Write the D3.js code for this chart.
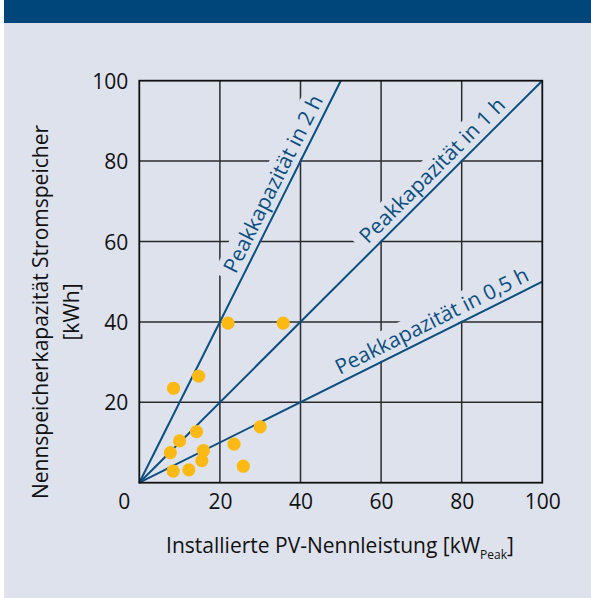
<!DOCTYPE html>
<html>
<head>
<meta charset="utf-8">
<script src="https://cdn.jsdelivr.net/npm/d3@7"></script>
<style>
  body { margin: 0; background: #ffffff; }
  text { font-family: "Open Sans", "Noto Sans", sans-serif; }
</style>
</head>
<body>
<svg width="591" height="598"></svg>
<script>
// PV-Nennleistung (kWp) vs Speicherkapazität (kWh)
var pvPower   = [22, 35.7, 14.7, 8.5, 14.2, 10, 30, 7.7, 15.9, 23.5, 15.5, 8.4, 12.3, 25.8];
var capacity  = [39.7, 39.7, 26.5, 23.5, 12.7, 10.4, 13.9, 7.5, 8.0, 9.6, 5.5, 2.9, 3.2, 4.1];

// Peakkapazität-Linien (Stunden) und Beschriftungen
var hours      = [2, 1, 0.5];
var lineLabels = ["Peakkapazität in 2 h", "Peakkapazität in 1 h", "Peakkapazität in 0,5 h"];
var labelAt    = [25.5, 58, 50.5];   // x value on the line where label starts

var xTicks = [20, 40, 60, 80, 100];
var yTicks = [20, 40, 60, 80, 100];
var gridVals = [20, 40, 60, 80];

var BG = "#dee2ed", NAVY = "#00467b", LINE = "#0b4f81", DOT = "#fcb914";

var svg = d3.select("svg");

svg.append("rect").attr("width", 591).attr("height", 598).attr("fill", BG);
svg.append("rect").attr("width", 591).attr("height", 23).attr("fill", NAVY);
svg.append("rect").attr("width", 4).attr("height", 598).attr("fill", "#ffffff");

var x = d3.scaleLinear().domain([0, 100]).range([139.3, 542.3]),
    y = d3.scaleLinear().domain([0, 100]).range([482.7, 80.7]);

// grid
var gGrid = svg.append("g");
gGrid.selectAll(".vg").data(gridVals).enter().append("line")
  .attr("x1", d => x(d)).attr("x2", d => x(d))
  .attr("y1", y(0)).attr("y2", y(100))
  .attr("stroke", "#2b2b2b").attr("stroke-width", 1.5);
gGrid.selectAll(".hg").data(gridVals).enter().append("line")
  .attr("y1", d => y(d)).attr("y2", d => y(d))
  .attr("x1", x(0)).attr("x2", x(100))
  .attr("stroke", "#2b2b2b").attr("stroke-width", 1.5);

// label bands (mask grid behind text)
var gMask = svg.append("g"), gLines = svg.append("g"), gLab = svg.append("g");

hours.forEach(function(h, i) {
  var xEnd = Math.min(100, 100 / h);
  gLines.append("line")
    .attr("x1", x(0)).attr("y1", y(0))
    .attr("x2", x(xEnd)).attr("y2", y(h * xEnd))
    .attr("stroke", LINE).attr("stroke-width", 2);

  var px = x(labelAt[i]), py = y(h * labelAt[i]);
  var ang = Math.atan2(y(0) - y(h), x(1) - x(0)) * 180 / Math.PI;
  var g = gLab.append("g").attr("transform", "translate(" + px + "," + py + ") rotate(" + (-ang) + ")");
  var t = g.append("text")
    .attr("x", 0).attr("y", -7)
    .attr("fill", LINE).attr("font-size", 21)
    .text(lineLabels[i]);
  var len = t.node().getComputedTextLength();
  gMask.append("rect")
    .attr("transform", "translate(" + px + "," + py + ") rotate(" + (-ang) + ")")
    .attr("x", -8).attr("y", -28).attr("width", len + 14).attr("height", 27)
    .attr("fill", BG);
});

// frame
var gFrame = svg.append("g");
gFrame.append("rect")
  .attr("x", x(0)).attr("y", y(100))
  .attr("width", x(100) - x(0)).attr("height", y(0) - y(100))
  .attr("fill", "none").attr("stroke", "#111").attr("stroke-width", 1.8);

// points
svg.append("g").selectAll("circle").data(pvPower).enter().append("circle")
  .attr("cx", d => x(d))
  .attr("cy", (d, i) => y(capacity[i]))
  .attr("r", 6.6)
  .attr("fill", DOT);

// axes (labels only)
var xAxis = svg.append("g").attr("transform", "translate(0," + y(0) + ")")
  .call(d3.axisBottom(x).tickValues(xTicks).tickSize(0).tickPadding(0));
xAxis.select(".domain").remove();
xAxis.selectAll("text").attr("y", 26).attr("dy", 0)
  .attr("font-size", 21).attr("font-family", "Open Sans").attr("fill", "#111");

var yAxis = svg.append("g").attr("transform", "translate(" + x(0) + ",0)")
  .call(d3.axisLeft(y).tickValues(yTicks).tickSize(0).tickPadding(11));
yAxis.select(".domain").remove();
yAxis.selectAll("text").attr("dy", "0.36em")
  .attr("font-size", 21).attr("font-family", "Open Sans").attr("fill", "#111");

svg.append("text").attr("x", x(0) - 15).attr("y", y(0) + 26)
  .attr("text-anchor", "middle").attr("font-size", 21).attr("fill", "#111").text("0");

// axis titles
var xt = svg.append("text").attr("x", 340).attr("y", 553)
  .attr("text-anchor", "middle").attr("font-size", 21).attr("fill", "#111");
xt.append("tspan").text("Installierte PV-Nennleistung [kW");
xt.append("tspan").attr("font-size", 12).attr("dy", 6).text("Peak");
xt.append("tspan").attr("dy", -6).text("]");

var yt = svg.append("g").attr("transform", "translate(0,312) rotate(-90)");
yt.append("text").attr("x", 0).attr("y", 48).attr("text-anchor", "middle")
  .attr("font-size", 21).attr("fill", "#111").text("Nennspeicherkapazität Stromspeicher");
yt.append("text").attr("x", 0).attr("y", 79).attr("text-anchor", "middle")
  .attr("font-size", 21).attr("fill", "#111").text("[kWh]");
</script>
</body>
</html>
